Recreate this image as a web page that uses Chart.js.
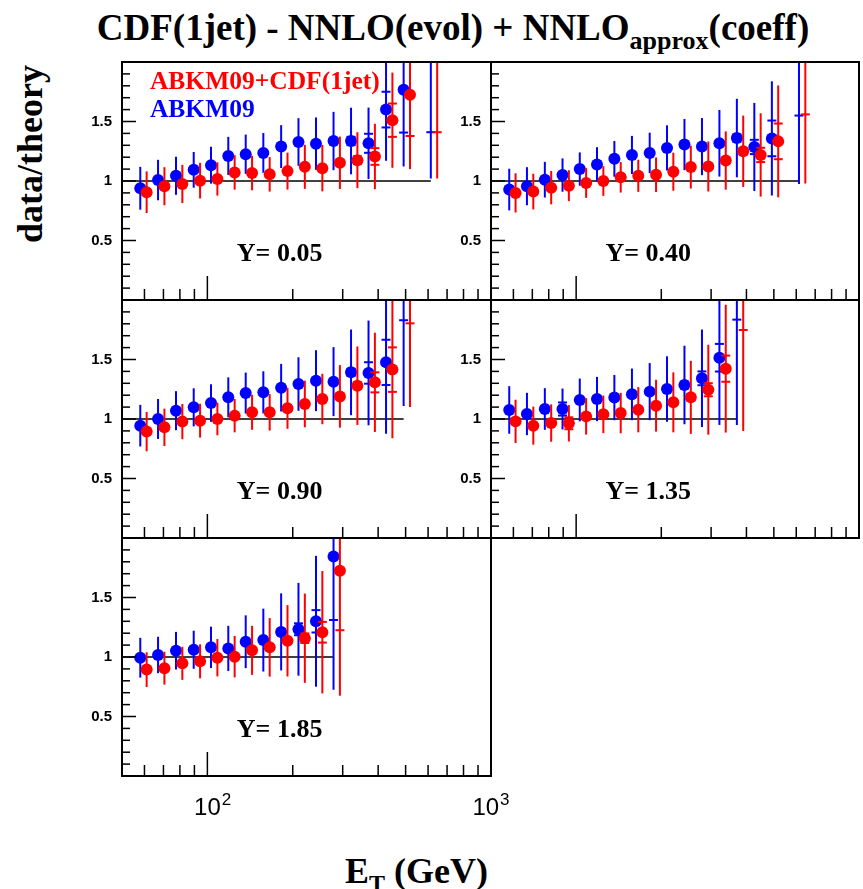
<!DOCTYPE html>
<html lang="en">
<head>
<meta charset="UTF-8">
<title>CDF(1jet) - data/theory</title>
<script src="https://cdn.jsdelivr.net/npm/chart.js"></script>
<style>
  html, body { margin: 0; padding: 0; background: #fff; }
  #page { position: relative; width: 863px; height: 889px; overflow: hidden; background: #fff; }
  #page canvas { position: absolute; }
  .title { position: absolute; left: 0; width: 906px; top: 6px; line-height: 37px; text-align: center;
           font: bold 37px "Liberation Serif", "Times New Roman", serif; white-space: nowrap; }
  .title sub { font-size: 26px; vertical-align: -9px; line-height: 0; }
  .ytitle { position: absolute; left: 30px; top: 154px; transform: translate(-50%, -50%) rotate(-90deg);
            font: bold 36px "Liberation Serif", serif; white-space: nowrap; line-height: 36px; }
  .xtitle { position: absolute; right: 375px; top: 850px; line-height: 36px;
            font: bold 36px "Liberation Serif", serif; white-space: nowrap; }
  .xtitle sub { font-size: 24px; vertical-align: -8px; line-height: 0; }
</style>
</head>
<body>
<div id="page">
  <div class="title">CDF(1jet) - NNLO(evol) + NNLO<sub>approx</sub>(coeff)</div>
  <div class="ytitle">data/theory</div>
  <div class="xtitle">E<sub>T</sub> (GeV)</div>
</div>
<script>
// jet E_T bin centres (GeV)
const etBins = [58, 67, 77.5, 89.5, 103, 118.5, 136.5, 157.5, 182, 209.5, 241.5, 278.5, 321, 370, 426.5, 492, 613.5];

// Y = 0.05
const y005Fit     = [0.906, 0.956, 0.975, 1.003, 1.017, 1.072, 1.067, 1.056, 1.083, 1.119, 1.108, 1.153, 1.175, 1.206, 1.511, 1.725, 2.30];
const y005FitTot  = [0.175, 0.16, 0.16, 0.15, 0.14, 0.145, 0.145, 0.145, 0.155, 0.185, 0.195, 0.22, 0.235, 0.275, 0.40, 0.625, 1.28];
const y005FitStat = [0.005, 0.005, 0.005, 0.005, 0.006, 0.007, 0.008, 0.009, 0.011, 0.013, 0.016, 0.021, 0.033, 0.07, 0.14, 0.347, 0.89];
const y005Abkm     = [0.939, 1.008, 1.044, 1.094, 1.133, 1.211, 1.225, 1.236, 1.289, 1.328, 1.314, 1.336, 1.336, 1.317, 1.600, 1.767, 2.35];
const y005AbkmTot  = [0.18, 0.17, 0.16, 0.15, 0.155, 0.16, 0.165, 0.167, 0.18, 0.20, 0.22, 0.245, 0.28, 0.30, 0.43, 0.645, 1.33];
const y005AbkmStat = [0.005, 0.005, 0.005, 0.006, 0.007, 0.008, 0.009, 0.010, 0.012, 0.014, 0.017, 0.022, 0.035, 0.08, 0.15, 0.36, 0.94];

// Y = 0.40
const y040Fit     = [0.90, 0.911, 0.944, 0.961, 0.983, 1.0, 1.031, 1.044, 1.053, 1.078, 1.117, 1.122, 1.172, 1.25, 1.219, 1.333, 2.13];
const y040FitTot  = [0.165, 0.15, 0.14, 0.13, 0.125, 0.125, 0.128, 0.135, 0.145, 0.16, 0.18, 0.21, 0.245, 0.30, 0.35, 0.47, 1.15];
const y040FitStat = [0.004, 0.004, 0.004, 0.004, 0.005, 0.006, 0.006, 0.007, 0.008, 0.010, 0.012, 0.015, 0.019, 0.028, 0.06, 0.15, 0.57];
const y040Abkm     = [0.928, 0.956, 1.011, 1.05, 1.10, 1.139, 1.186, 1.219, 1.236, 1.278, 1.306, 1.289, 1.317, 1.361, 1.286, 1.358, 2.15];
const y040AbkmTot  = [0.175, 0.16, 0.15, 0.14, 0.14, 0.145, 0.15, 0.16, 0.17, 0.19, 0.215, 0.24, 0.28, 0.33, 0.37, 0.48, 1.175];
const y040AbkmStat = [0.004, 0.004, 0.004, 0.005, 0.005, 0.006, 0.007, 0.008, 0.009, 0.011, 0.013, 0.016, 0.02, 0.03, 0.06, 0.15, 0.60];

// Y = 0.90
const y090Fit     = [0.894, 0.93, 0.978, 0.986, 1.0, 1.028, 1.056, 1.056, 1.09, 1.126, 1.168, 1.19, 1.28, 1.308, 1.415, 2.20];
const y090FitTot  = [0.165, 0.157, 0.148, 0.142, 0.137, 0.14, 0.147, 0.153, 0.172, 0.196, 0.212, 0.263, 0.33, 0.417, 0.577, 1.10];
const y090FitStat = [0.004, 0.004, 0.005, 0.005, 0.006, 0.006, 0.007, 0.008, 0.010, 0.012, 0.015, 0.019, 0.028, 0.084, 0.187, 0.396];
const y090Abkm     = [0.944, 1.0, 1.07, 1.098, 1.134, 1.182, 1.218, 1.224, 1.263, 1.294, 1.322, 1.314, 1.392, 1.387, 1.476, 2.25];
const y090AbkmTot  = [0.175, 0.168, 0.164, 0.16, 0.158, 0.168, 0.172, 0.177, 0.20, 0.225, 0.256, 0.29, 0.36, 0.44, 0.60, 1.14];
const y090AbkmStat = [0.004, 0.004, 0.005, 0.005, 0.006, 0.007, 0.008, 0.009, 0.011, 0.013, 0.016, 0.02, 0.03, 0.09, 0.19, 0.42];

// Y = 1.35
const y135Fit     = [0.98, 0.944, 0.966, 0.964, 1.022, 1.039, 1.05, 1.078, 1.112, 1.14, 1.182, 1.246, 1.423, 2.20];
const y135FitTot  = [0.182, 0.16, 0.157, 0.153, 0.153, 0.158, 0.17, 0.19, 0.218, 0.252, 0.307, 0.378, 0.537, 1.30];
const y135FitStat = [0.005, 0.005, 0.006, 0.05, 0.007, 0.008, 0.010, 0.012, 0.015, 0.019, 0.026, 0.055, 0.11, 0.452];
const y135Abkm     = [1.076, 1.042, 1.084, 1.084, 1.16, 1.168, 1.18, 1.207, 1.23, 1.252, 1.286, 1.342, 1.515, 2.30];
const y135AbkmTot  = [0.20, 0.178, 0.175, 0.172, 0.18, 0.186, 0.19, 0.217, 0.24, 0.275, 0.33, 0.41, 0.565, 1.35];
const y135AbkmStat = [0.005, 0.005, 0.006, 0.055, 0.008, 0.009, 0.011, 0.013, 0.016, 0.02, 0.028, 0.058, 0.116, 0.465];

// Y = 1.85
const y185Fit     = [0.894, 0.906, 0.947, 0.964, 0.994, 1.003, 1.056, 1.081, 1.136, 1.158, 1.208, 1.725];
const y185FitTot  = [0.146, 0.138, 0.139, 0.143, 0.157, 0.174, 0.206, 0.246, 0.30, 0.375, 0.514, 1.05];
const y185FitStat = [0.005, 0.005, 0.006, 0.006, 0.007, 0.009, 0.012, 0.016, 0.023, 0.04, 0.087, 0.50];
const y185Abkm     = [0.994, 1.017, 1.053, 1.061, 1.081, 1.072, 1.128, 1.142, 1.211, 1.233, 1.30, 1.844];
const y185AbkmTot  = [0.167, 0.153, 0.158, 0.16, 0.174, 0.19, 0.222, 0.264, 0.324, 0.39, 0.55, 1.12];
const y185AbkmStat = [0.005, 0.005, 0.006, 0.007, 0.008, 0.010, 0.013, 0.017, 0.025, 0.05, 0.094, 0.533];

const fitColor = '#ff0000';
const abkmColor = '#0000ff';
const fitShift = 1.053;   // red points drawn slightly to the right of the bin centre

const panels = [
    { label: 'Y= 0.05', col: 0, row: 0, fit: [y005Fit, y005FitTot, y005FitStat], abkm: [y005Abkm, y005AbkmTot, y005AbkmStat], legend: true },
    { label: 'Y= 0.40', col: 1, row: 0, fit: [y040Fit, y040FitTot, y040FitStat], abkm: [y040Abkm, y040AbkmTot, y040AbkmStat] },
    { label: 'Y= 0.90', col: 0, row: 1, fit: [y090Fit, y090FitTot, y090FitStat], abkm: [y090Abkm, y090AbkmTot, y090AbkmStat] },
    { label: 'Y= 1.35', col: 1, row: 1, fit: [y135Fit, y135FitTot, y135FitStat], abkm: [y135Abkm, y135AbkmTot, y135AbkmStat] },
    { label: 'Y= 1.85', col: 0, row: 2, fit: [y185Fit, y185FitTot, y185FitStat], abkm: [y185Abkm, y185AbkmTot, y185AbkmStat], xLabels: true }
];

// pad geometry (canvas placement only)
const colCanvas = [{ left: 62, width: 432, padL: 60, padR: 3 }, { left: 440, width: 423, padL: 51, padR: 4 }];
const rowTop = [62, 300, 538];
const frameH = 238;

const sansBold = 'bold 15px "Liberation Sans", Arial, sans-serif';
const serifBold = px => 'bold ' + px + 'px "Liberation Serif", "Times New Roman", serif';

// ROOT-like frame, ticks, error bars and labels
const rootPad = {
    id: 'rootPad',
    beforeDatasetsDraw(chart) {
        const { ctx, chartArea: a, scales: { x, y } } = chart;
        const o = chart.options.plugins.rootPad;
        ctx.save();
        ctx.strokeStyle = '#000';
        ctx.lineWidth = 1.5;
        ctx.beginPath();
        ctx.moveTo(a.left, y.getPixelForValue(1));
        ctx.lineTo(x.getPixelForValue(o.lineEnd), y.getPixelForValue(1));
        ctx.stroke();
        ctx.restore();
    },
    beforeDatasetDraw(chart, args) {
        const { ctx, chartArea: a, scales: { x, y } } = chart;
        const ds = chart.data.datasets[args.index];
        ctx.save();
        ctx.beginPath();
        ctx.rect(a.left, a.top, a.right - a.left, a.bottom - a.top);
        ctx.clip();
        ctx.strokeStyle = ds.backgroundColor;
        ctx.lineWidth = 2;
        ds.data.forEach((p, i) => {
            const px = x.getPixelForValue(p.x);
            const tot = ds.errTot[i], st = ds.errStat[i];
            ctx.beginPath();
            ctx.moveTo(px, y.getPixelForValue(p.y - tot));
            ctx.lineTo(px, y.getPixelForValue(p.y + tot));
            ctx.stroke();
            [p.y - st, p.y + st].forEach(v => {
                const py = y.getPixelForValue(v);
                ctx.beginPath();
                ctx.moveTo(px - 4.5, py);
                ctx.lineTo(px + 4.5, py);
                ctx.stroke();
            });
        });
        ctx.restore();
    },
    afterDraw(chart) {
        const { ctx, chartArea: a, scales: { x, y } } = chart;
        const o = chart.options.plugins.rootPad;
        ctx.save();
        ctx.strokeStyle = '#000';
        ctx.fillStyle = '#000';

        // y ticks (inside, left edge)
        ctx.lineWidth = 1.5;
        for (let k = 0; k <= 20; k++) {
            const py = y.getPixelForValue(k / 10);
            const len = k % 5 === 0 ? 14 : 8;
            ctx.beginPath();
            ctx.moveTo(a.left, py);
            ctx.lineTo(a.left + len, py);
            ctx.stroke();
        }
        // x ticks (inside, bottom edge)
        const xt = [60, 70, 80, 90, 100, 200, 300, 400, 500, 600, 700, 800, 900];
        xt.forEach(v => {
            const px = x.getPixelForValue(v);
            const len = v === 100 ? 24 : 11;
            ctx.beginPath();
            ctx.moveTo(px, a.bottom);
            ctx.lineTo(px, a.bottom - len);
            ctx.stroke();
        });

        // frame
        ctx.lineWidth = 2;
        ctx.strokeRect(a.left, a.top, a.right - a.left, a.bottom - a.top);

        // y tick labels
        ctx.font = sansBold;
        ctx.textAlign = 'right';
        ctx.textBaseline = 'middle';
        [[0.5, '0.5'], [1, '1'], [1.5, '1.5']].forEach(([v, t]) => {
            ctx.fillText(t, a.left - 10, y.getPixelForValue(v));
        });

        // x tick labels with exponent
        if (o.xLabels) {
            [[100, '2'], [1000, '3']].forEach(([v, e], j) => {
                const px = x.getPixelForValue(v);
                ctx.font = '24px "Liberation Sans", Arial, sans-serif';
                const w = ctx.measureText('10').width;
                ctx.font = '17px "Liberation Sans", Arial, sans-serif';
                const we = ctx.measureText(e).width;
                // last label is centred as a whole, the first one on its base
                const x0 = j === 0 ? px - w / 2 : px - (w + 1 + we) / 2;
                ctx.textAlign = 'left';
                ctx.textBaseline = 'alphabetic';
                ctx.font = '24px "Liberation Sans", Arial, sans-serif';
                ctx.fillText('10', x0, a.bottom + 39);
                ctx.font = '17px "Liberation Sans", Arial, sans-serif';
                ctx.fillText(e, x0 + w + 1, a.bottom + 29);
            });
        }

        // rapidity label
        ctx.font = serifBold(26);
        ctx.textAlign = 'left';
        ctx.textBaseline = 'alphabetic';
        ctx.fillText(o.label, x.getPixelForValue(127), y.getPixelForValue(0.33));

        // legend
        if (o.legend) {
            ctx.font = serifBold(25.5);
            ctx.fillStyle = fitColor;
            ctx.fillText('ABKM09+CDF(1jet)', x.getPixelForValue(62.7), y.getPixelForValue(1.775));
            ctx.fillStyle = abkmColor;
            ctx.fillText('ABKM09', x.getPixelForValue(62.7), y.getPixelForValue(1.535));
        }
        ctx.restore();
    }
};
Chart.register(rootPad);

const page = document.getElementById('page');

function series(vals, tot, stat, shift, color) {
    return {
        data: vals.map((v, i) => ({ x: etBins[i] * shift, y: v })),
        errTot: tot,
        errStat: stat,
        backgroundColor: color,
        borderColor: color,
        pointRadius: 6,
        pointHoverRadius: 6,
        pointBorderWidth: 0,
        clip: 0
    };
}

panels.forEach(p => {
    const c = colCanvas[p.col];
    const padB = p.xLabels ? 56 : 4;
    const extraR = p.xLabels ? 60 : 0;   // room for the 10^3 label
    const canvas = document.createElement('canvas');
    canvas.width = c.width + extraR;
    canvas.height = 4 + frameH + padB;
    canvas.style.left = c.left + 'px';
    canvas.style.top = (rowTop[p.row] - 4) + 'px';
    page.appendChild(canvas);

    const n = p.fit[0].length;
    new Chart(canvas.getContext('2d'), {
        type: 'scatter',
        data: {
            // red first so it is painted on top of blue
            datasets: [
                series(p.fit[0], p.fit[1], p.fit[2], fitShift, fitColor),
                series(p.abkm[0], p.abkm[1], p.abkm[2], 1, abkmColor)
            ]
        },
        options: {
            responsive: false,
            animation: false,
            events: [],
            layout: { autoPadding: false, padding: { left: c.padL, right: c.padR + extraR, top: 4, bottom: padB } },
            scales: {
                x: { type: 'logarithmic', min: 50, max: 1000, display: false },
                y: { type: 'linear', min: 0, max: 2, display: false }
            },
            plugins: {
                legend: { display: false },
                tooltip: { enabled: false },
                rootPad: { label: p.label, lineEnd: etBins[n - 1], legend: !!p.legend, xLabels: !!p.xLabels }
            }
        }
    });
});
</script>
</body>
</html>
